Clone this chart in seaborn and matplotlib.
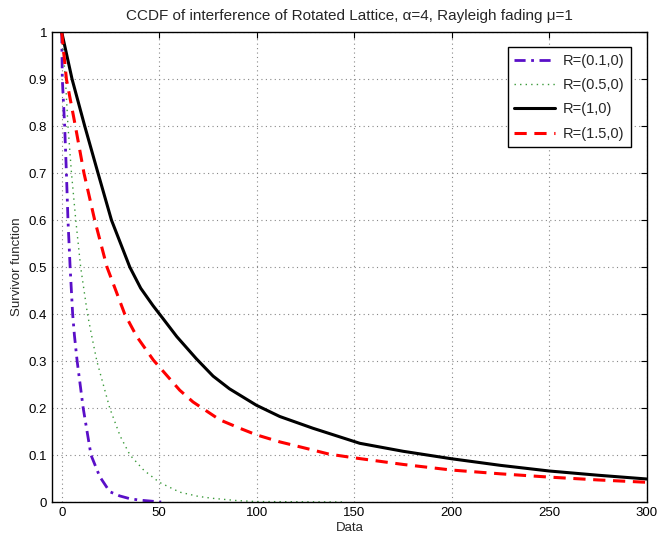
import matplotlib
matplotlib.use("Agg")
import matplotlib.pyplot as plt
import seaborn as sns

# survivor curves
x_r01 = [0, 0.3, 1.5, 2.4, 3.2, 4.3, 5.6, 6.5, 7.9, 11, 15, 19.5, 24.6, 29.7, 35, 40, 51]
y_r01 = [1, 0.9, 0.8, 0.7, 0.6, 0.5, 0.4, 0.355, 0.3, 0.2, 0.1, 0.054, 0.022, 0.013, 0.007, 0.004, 0]

x_r05 = [0, 1.9, 3.2, 5, 7.2, 9.7, 13.2, 15.3, 18, 24.6, 30, 35, 42, 50, 60.5, 70, 77, 90, 100, 145]
y_r05 = [1, 0.9, 0.8, 0.7, 0.6, 0.5, 0.4, 0.355, 0.3, 0.2, 0.14, 0.1, 0.068, 0.042, 0.021, 0.012, 0.008, 0.003, 0.001, 0]

x_r1 = [0, 5.3, 11.8, 18.6, 25.5, 34.9, 40.5, 46.8, 52, 59, 69, 77.6, 86, 99.8, 111.8, 128.8, 152.8,
        175, 200, 225, 250, 275, 300]
y_r1 = [1, 0.9, 0.8, 0.7, 0.6, 0.5, 0.455, 0.418, 0.39, 0.352, 0.305, 0.268, 0.241, 0.206, 0.182, 0.157, 0.125,
        0.108, 0.092, 0.078, 0.066, 0.057, 0.049]

x_r15 = [0, 2.4, 7, 11.4, 16.9, 23.2, 32.3, 38.5, 47, 60.5, 67.3, 81, 91.3, 99.8,
         111.8, 125.5, 137, 150, 175, 200, 225, 250, 275, 300]
y_r15 = [1, 0.9, 0.8, 0.7, 0.6, 0.5, 0.4, 0.352, 0.302, 0.238, 0.213, 0.175, 0.157, 0.143,
         0.128, 0.114, 0.102, 0.094, 0.08, 0.068, 0.06, 0.053, 0.047, 0.042]

labels = ["R=(0.1,0)", "R=(0.5,0)", "R=(1,0)", "R=(1.5,0)"]
x_ticks = [0, 50, 100, 150, 200, 250, 300]
y_ticks = [0, 0.1, 0.2, 0.3, 0.4, 0.5, 0.6, 0.7, 0.8, 0.9, 1]
y_tick_labels = ["0", "0.1", "0.2", "0.3", "0.4", "0.5", "0.6", "0.7", "0.8", "0.9", "1"]

sns.set_style("white")
plt.rcParams['font.family'] = ['Liberation Sans', 'DejaVu Sans']

fig = plt.figure(figsize=(6.58, 5.36), dpi=100)
ax = fig.add_axes([0.079, 0.0634, 0.904, 0.8766])

sns.lineplot(x=x_r01, y=y_r01, ax=ax, color='#5a0fc8', linewidth=2,
             linestyle=(0, (4, 2, 1, 2)), label=labels[0])
sns.lineplot(x=x_r05, y=y_r05, ax=ax, color='#3a9a3a', linewidth=1,
             linestyle=(0, (1, 3)), label=labels[1])
sns.lineplot(x=x_r1, y=y_r1, ax=ax, color='black', linewidth=2.2,
             linestyle='-', label=labels[2])
sns.lineplot(x=x_r15, y=y_r15, ax=ax, color='red', linewidth=2.2,
             linestyle=(0, (4, 2.5)), label=labels[3])

ax.set_xlim(-5, 300)
ax.set_ylim(0, 1)
ax.set_xticks(x_ticks)
ax.set_yticks(y_ticks)
ax.set_yticklabels(y_tick_labels)
ax.tick_params(direction='in', top=True, right=True, length=4, labelsize=9.5, colors='black')
ax.grid(True, linestyle=(0, (1, 3)), color='#888888', linewidth=0.8)
for sp in ax.spines.values():
    sp.set_color('black')
    sp.set_linewidth(1)

ax.set_xlabel('Data', fontsize=9.5, labelpad=2)
ax.set_ylabel('Survivor function', fontsize=9.5, labelpad=4)
ax.set_title('CCDF of interference of Rotated Lattice, α=4, Rayleigh fading μ=1', fontsize=11, pad=9)

leg = ax.legend(loc='upper right', fontsize=10.5, fancybox=False, framealpha=1,
                edgecolor='black', borderpad=0.45, handlelength=2.8, labelspacing=0.7,
                handletextpad=0.5, bbox_to_anchor=(0.985, 0.983))
leg.get_frame().set_linewidth(1)

fig.savefig('out.png', dpi=100)
